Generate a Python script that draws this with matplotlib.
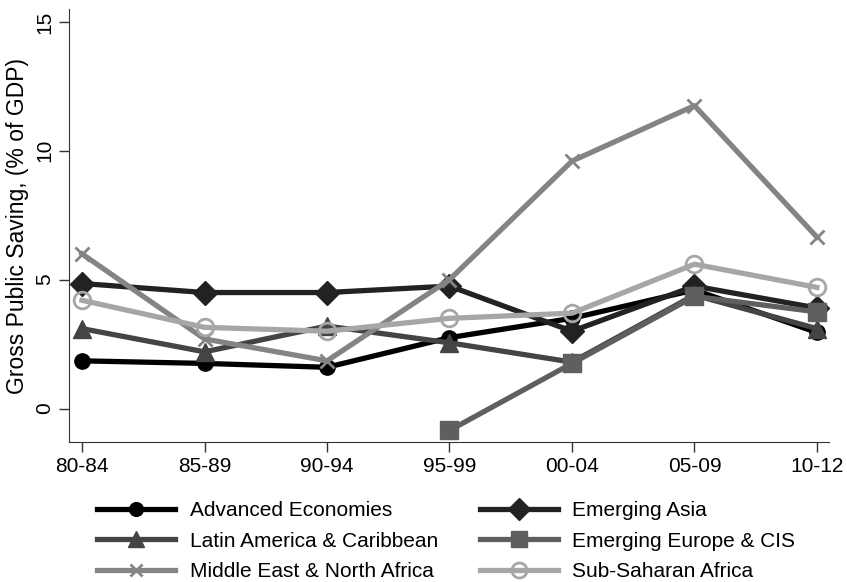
import numpy as np
import matplotlib
matplotlib.use("Agg")
import matplotlib.pyplot as plt

plt.rcParams["font.family"] = ["Liberation Sans", "DejaVu Sans"]

periods = ["80-84", "85-89", "90-94", "95-99", "00-04", "05-09", "10-12"]

advanced = [1.85, 1.75, 1.6, 2.75, 3.5, 4.6, 2.95]
em_asia = [4.85, 4.5, 4.5, 4.75, 3.0, 4.75, 3.9]
latam = [3.1, 2.2, 3.2, 2.55, 1.8, 4.4, 3.1]
em_europe = [np.nan, np.nan, np.nan, -0.85, 1.75, 4.35, 3.75]
mena = [6.0, 2.7, 1.85, 5.0, 9.6, 11.75, 6.65]
ssa = [4.2, 3.15, 3.0, 3.5, 3.7, 5.6, 4.7]


def main():
    fig = plt.figure(figsize=(8.47, 5.82), dpi=100)
    ax = fig.add_axes([0.0815, 0.2405, 0.8975, 0.744])
    x = np.arange(len(periods))
    lw = 3.8

    h_adv, = ax.plot(x, advanced, color="#000000", lw=lw, marker="o", ms=11,
                     label="Advanced Economies")
    h_asia, = ax.plot(x, em_asia, color="#222222", lw=lw, marker="D", ms=12.5,
                      label="Emerging Asia")
    h_lat, = ax.plot(x, latam, color="#444444", lw=lw, marker="^", ms=13,
                     label="Latin America & Caribbean")
    h_eur, = ax.plot(x, em_europe, color="#5f5f5f", lw=lw, marker="s", ms=13,
                     label="Emerging Europe & CIS")
    h_mena, = ax.plot(x, mena, color="#848484", lw=lw, marker="x", ms=10,
                      mew=2, label="Middle East & North Africa")
    h_ssa, = ax.plot(x, ssa, color="#a6a6a6", lw=lw, marker="o", ms=12,
                     mfc="none", mew=2, label="Sub-Saharan Africa")

    ax.set_xlim(-0.106, 6.1)
    ax.set_ylim(-1.3, 15.5)
    ax.set_xticks(x)
    ax.set_xticklabels(periods, fontsize=15)
    ax.set_yticks([0, 5, 10, 15])
    ax.set_yticklabels(["0", "5", "10", "15"], fontsize=15, rotation=90,
                       va="center")
    ax.tick_params(length=7, width=1, color="#333333")
    ax.set_ylabel("Gross Public Saving, (% of GDP)", fontsize=16.5, labelpad=5)
    for s in ["top", "right"]:
        ax.spines[s].set_visible(False)
    for s in ["left", "bottom"]:
        ax.spines[s].set_color("#333333")

    # row-wise order like the original (matplotlib fills columns first)
    handles = [h_adv, h_lat, h_mena, h_asia, h_eur, h_ssa]
    fig.legend(handles=handles, labels=[h.get_label() for h in handles],
               loc="upper left", bbox_to_anchor=(0.1145, 0.139), ncol=2,
               frameon=False, fontsize=15, handlelength=3.75,
               handletextpad=0.7, columnspacing=2.0, labelspacing=0.55,
               borderpad=0, borderaxespad=0, markerscale=0.9)

    fig.savefig("out.png", dpi=100)


if __name__ == "__main__":
    main()
